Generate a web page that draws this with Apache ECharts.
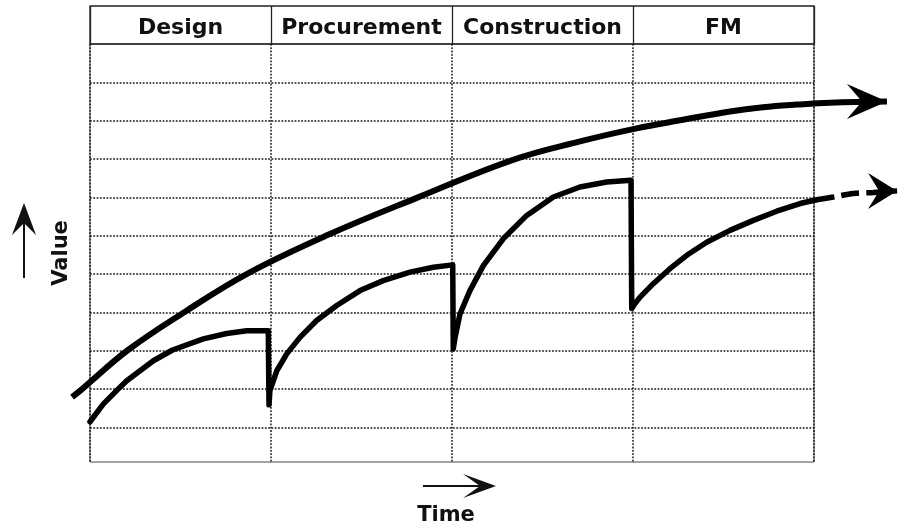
<!DOCTYPE html>
<html>
<head>
<meta charset="utf-8">
<script src="https://cdn.jsdelivr.net/npm/echarts@6/dist/echarts.min.js"></script>
<style>
  html, body { margin: 0; padding: 0; background: #fff; }
  #main { width: 898px; height: 526px; }
</style>
</head>
<body>
<div id="main"></div>
<script>
// project phases shown in the header row
var phases = ['Design', 'Procurement', 'Construction', 'FM'];
// value levels that get a dotted grid line
var gridTicks = [0, 1, 2, 3, 4, 5, 6, 7, 8, 9];

// long-term value trend (upper arrow), x in phases, y in grid units
var upperCurve = [
  [-0.099, 0.79], [-0.039, 1.02], [0.21, 2.02], [0.525, 3.02], [0.873, 4.02],
  [1.309, 5.01], [1.812, 6.0], [2.337, 6.98], [2.707, 7.46], [3.02, 7.8],
  [3.26, 8.01], [3.536, 8.24], [3.718, 8.35], [3.906, 8.42], [4.088, 8.47], [4.403, 8.5]
];

// value per phase, with the drop at each hand-over
var phaseValue = [
  // design
  [0, 0.15], [0.073, 0.61], [0.155, 1.0], [0.203, 1.22], [0.35, 1.74], [0.456, 2.02],
  [0.626, 2.31], [0.755, 2.45], [0.866, 2.52], [0.985, 2.52], [0.989, 0.59],
  // procurement
  [0.994, 0.96], [1.032, 1.48], [1.087, 1.92], [1.16, 2.35], [1.252, 2.79], [1.363, 3.18],
  [1.492, 3.57], [1.62, 3.83], [1.768, 4.05], [1.897, 4.18], [2.004, 4.24], [2.007, 2.05],
  // construction
  [2.017, 2.35], [2.044, 2.96], [2.099, 3.57], [2.173, 4.22], [2.283, 4.92], [2.413, 5.53],
  [2.56, 6.01], [2.707, 6.27], [2.855, 6.4], [2.989, 6.45], [2.993, 3.1],
  // FM
  [3.011, 3.23], [3.039, 3.4], [3.112, 3.75], [3.204, 4.14], [3.297, 4.49], [3.407, 4.83],
  [3.536, 5.14], [3.665, 5.4], [3.794, 5.64], [3.923, 5.84], [4.015, 5.94]
];

// dashed continuation after FM
var fmForecast = [
  [4.015, 5.94], [4.107, 6.01], [4.217, 6.1], [4.328, 6.13], [4.459, 6.17]
];

var myChart = echarts.init(document.getElementById('main'));

var W = 898, frameLeft = 90, frameRight = 84;
var unit = (W - frameLeft - frameRight) / phases.length;   // px per phase
var font = 'DejaVu Sans';
var ink = '#111';
var dotted = { color: '#1a1a1a', width: 1.5, type: [1.8, 1.5] };

// put a barbed arrow head on the last point, tip on the point
function withArrow(points, path, size) {
  return points.map(function (p, i) {
    if (i < points.length - 1) return p;
    return { value: p, symbol: path, symbolSize: size, symbolOffset: [-size[0] / 2, 0] };
  });
}

var hidden = { show: false };

var option = {
  animation: false,
  backgroundColor: '#fff',
  grid: [
    // body frame with the dotted grid
    { left: frameLeft, right: frameRight, top: 44, bottom: 64, show: true, borderColor: '#444', borderWidth: 1, outerBoundsMode: 'none' },
    // header row
    { left: frameLeft, right: frameRight, top: 6, height: 38, show: true, borderColor: '#222', borderWidth: 1.3, outerBoundsMode: 'none' },
    // full-width grid for the curves so the arrows can run past the frame
    { left: 0, right: 0, top: 44, bottom: 64, outerBoundsMode: 'none' }
  ],
  xAxis: [
    {
      gridIndex: 0, type: 'value', min: 0, max: 4, interval: 1,
      axisLine: hidden, axisTick: hidden, axisLabel: hidden,
      splitLine: { show: true, lineStyle: dotted },
      name: 'Time', nameLocation: 'middle', nameGap: 43,
      nameTextStyle: { fontFamily: font, fontWeight: 'bold', fontSize: 21, color: ink, padding: [0, 12, 0, 0] }
    },
    {
      gridIndex: 1, type: 'category', data: phases, position: 'top',
      axisLine: hidden, axisTick: hidden,
      axisLabel: { inside: true, interval: 0, margin: 22, verticalAlign: 'middle',
        fontFamily: font, fontWeight: 'bold', fontSize: 22, color: ink },
      splitLine: { show: true, lineStyle: { color: '#222', width: 1.3 } }
    },
    {
      gridIndex: 2, type: 'value', show: false,
      min: -frameLeft / unit, max: phases.length + frameRight / unit
    }
  ],
  yAxis: [
    {
      gridIndex: 0, type: 'value', min: -0.9, max: 10,
      axisLine: hidden,
      axisTick: { show: false, customValues: gridTicks },
      axisLabel: hidden,
      splitLine: { show: true, lineStyle: dotted },
      name: 'Value', nameLocation: 'middle', nameRotate: 90, nameGap: 18,
      nameTextStyle: { fontFamily: font, fontWeight: 'bold', fontSize: 21, color: ink }
    },
    { gridIndex: 1, type: 'value', min: 0, max: 1, show: false },
    { gridIndex: 2, type: 'value', min: -0.9, max: 10, show: false }
  ],
  series: [
    {
      name: 'Value trend', type: 'line', xAxisIndex: 2, yAxisIndex: 2,
      data: withArrow(upperCurve, 'path://M0,0L40,17.5L0,35L15,17.5Z', [40, 35]),
      symbol: 'none', smooth: 0.4, clip: false, silent: true,
      itemStyle: { color: '#000', borderWidth: 0 },
      lineStyle: { color: '#000', width: 6, cap: 'butt' }
    },
    {
      name: 'Phase value', type: 'line', xAxisIndex: 2, yAxisIndex: 2,
      data: phaseValue, symbol: 'none', clip: false, silent: true,
      lineStyle: { color: '#000', width: 5.5, join: 'round', cap: 'round' }
    },
    {
      name: 'FM forecast', type: 'line', xAxisIndex: 2, yAxisIndex: 2,
      data: withArrow(fmForecast, 'path://M0,0L29,18L0,36L11,18Z', [29, 36]),
      symbol: 'none', smooth: 0.3, clip: false, silent: true,
      itemStyle: { color: '#000', borderWidth: 0 },
      lineStyle: { color: '#000', width: 5.5, type: [18, 7] }
    }
  ],
  graphic: [
    // value arrow
    { type: 'line', shape: { x1: 24, y1: 278, x2: 24, y2: 222 }, style: { stroke: ink, lineWidth: 2 } },
    { type: 'polygon', shape: { points: [[24, 203], [36, 235], [24, 223], [12, 235]] }, style: { fill: ink } },
    // time arrow
    { type: 'line', shape: { x1: 423, y1: 486, x2: 481, y2: 486 }, style: { stroke: ink, lineWidth: 2 } },
    { type: 'polygon', shape: { points: [[496, 486], [463, 474], [480, 486], [463, 498]] }, style: { fill: ink } }
  ]
};

option && myChart.setOption(option);
window.onresize = function () {
  myChart.resize();
};
</script>
</body>
</html>
